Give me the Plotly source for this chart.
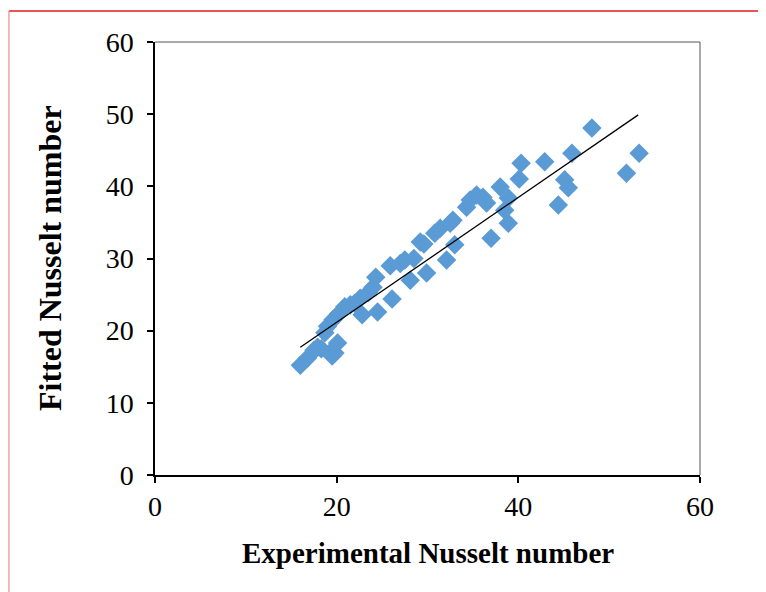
import plotly.graph_objects as go

# Experimental vs fitted Nusselt numbers
x_exp = [16.0, 16.8, 17.5, 17.9, 18.3, 18.7, 19.0, 19.3, 19.5, 19.8, 20.1, 19.6, 20.2, 20.9,
         21.5, 22.0, 22.6, 22.8, 23.5, 24.0, 24.3, 24.5, 26.1, 25.9, 27.0, 27.5, 28.1, 28.5,
         29.2, 29.6, 29.9, 30.8, 31.4, 32.1, 32.5, 32.8, 33.0, 34.3, 34.7, 35.4, 36.1, 36.5,
         37.0, 38.0, 38.5, 38.9, 38.9, 40.1, 40.3, 42.9, 44.4, 45.1, 45.5, 45.9, 48.1, 51.9, 53.3]
y_fit = [15.2, 16.2, 17.3, 17.7, 17.5, 19.7, 20.6, 17.0, 16.5, 16.9, 18.3, 21.5, 22.3, 23.3,
         23.6, 23.8, 24.5, 22.2, 25.3, 26.0, 27.4, 22.6, 24.4, 29.0, 29.3, 29.8, 27.0, 30.0,
         32.3, 32.0, 28.0, 33.5, 34.2, 29.8, 34.9, 35.3, 31.9, 37.1, 38.1, 38.8, 38.5, 37.7,
         32.8, 39.9, 36.7, 38.4, 34.9, 41.0, 43.2, 43.4, 37.4, 40.9, 39.8, 44.6, 48.1, 41.8, 44.6]

# Linear trend line end points
trend_x = [16.0, 53.2]
trend_y = [17.7, 49.9]

x_ticks = [0, 20, 40, 60]
y_ticks = [0, 10, 20, 30, 40, 50, 60]

FONT = "Liberation Serif, Times New Roman, serif"

fig = go.Figure()
fig.add_trace(go.Scatter(
    x=x_exp, y=y_fit, mode="markers",
    marker=dict(symbol="diamond", size=15, color="#5B9BD5", line=dict(width=0)),
    showlegend=False, hoverinfo="skip"))
fig.add_trace(go.Scatter(
    x=trend_x, y=trend_y, mode="lines",
    line=dict(color="black", width=1.3),
    showlegend=False, hoverinfo="skip"))

fig.update_layout(
    width=758, height=584,
    margin=dict(l=147, r=66, t=34, b=117),
    paper_bgcolor="white", plot_bgcolor="white",
    font=dict(family=FONT, size=28, color="black"),
    xaxis=dict(range=[0, 60], tickvals=x_ticks, ticktext=[str(v) for v in x_ticks],
               showgrid=False, zeroline=False, showline=True, linecolor="black", linewidth=1.5,
               ticks="outside", ticklen=6, tickwidth=1.5, tickcolor="black",
               tickfont=dict(family=FONT, size=28)),
    yaxis=dict(range=[0, 60], tickvals=y_ticks, ticktext=[str(v) for v in y_ticks],
               showgrid=False, zeroline=False, showline=True, linecolor="black", linewidth=1.5,
               ticks="outside", ticklen=6, tickwidth=1.5, tickcolor="black",
               ticklabelstandoff=8,
               tickfont=dict(family=FONT, size=28)),
    shapes=[
        # thin top and right frame of plot area
        dict(type="line", xref="paper", yref="paper", x0=0, x1=1, y0=1, y1=1,
             line=dict(color="#555555", width=1)),
        dict(type="line", xref="paper", yref="paper", x0=1, x1=1, y0=0, y1=1,
             line=dict(color="#555555", width=1)),
        # red outer border (top and left)
        dict(type="line", xref="paper", yref="paper", x0=-0.268, x1=1.125, y0=1.0716, y1=1.0716,
             line=dict(color="#E01B1B", width=1.5)),
        dict(type="line", xref="paper", yref="paper", x0=-0.268, x1=-0.268, y0=-0.3, y1=1.0716,
             line=dict(color="#F08A8A", width=1.2)),
    ],
    annotations=[
        dict(text="<b>Experimental Nusselt number</b>", xref="paper", yref="paper",
             x=0.501, y=-0.180, xanchor="center", yanchor="middle", showarrow=False,
             font=dict(family=FONT, size=29, color="black")),
        dict(text="<b>Fitted Nusselt number</b>", xref="paper", yref="paper",
             x=-0.1927, y=0.501, xanchor="center", yanchor="middle", showarrow=False,
             textangle=-90, font=dict(family=FONT, size=32, color="black")),
    ],
)

fig.write_html("out.html")
